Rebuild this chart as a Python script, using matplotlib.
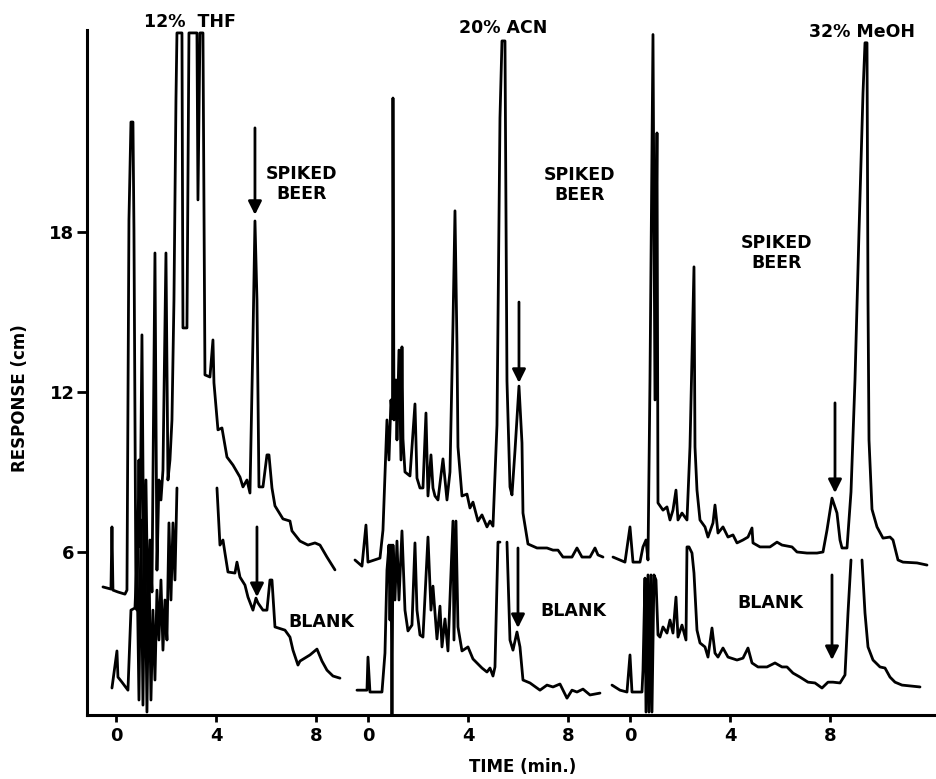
import matplotlib.pyplot as plt
import numpy as np

nan = np.nan

# time (min) / response (cm), one pair of lists per trace
thf_spiked_t = [-0.52, -0.20, -0.16, -0.12, 0.08, 0.36, 0.44, 0.52, 0.60, 0.68, 0.72, 0.80, 0.84, 0.92,
                0.96, 1.04, 1.12, 1.20, 1.28, 1.36, 1.44, 1.56, 1.64, 1.72, 1.80, 1.88, 2.00, 2.08,
                2.16, 2.24, 2.32, 2.40, 2.44, 2.64, 2.68, 2.84, 2.92, 3.24, 3.28, 3.36, 3.48, 3.56,
                3.76, 3.88, 3.92, 4.08, 4.24, 4.44, 4.68, 4.96, 5.08, 5.24, 5.36, 5.48, 5.56, 5.64,
                5.72, 5.88, 6.04, 6.12, 6.24, 6.36, 6.68, 6.96, 7.04, 7.36, 7.68, 7.96, 8.16, 8.44, 8.76]
thf_spiked_r = [4.69, 4.61, 6.94, 4.57, 4.50, 4.42, 4.57, 18.45, 22.12, 22.12, 18.07, 4.20, 3.82, 9.45,
                6.20, 14.14, 4.20, 8.70, 3.45, 6.45, 4.50, 17.21, 5.32, 8.70, 7.95, 9.07, 17.21, 8.70,
                9.45, 10.95, 15.45, 22.95, 25.46, 25.46, 14.40, 14.40, 25.46, 25.46, 19.20, 25.46, 25.46, 12.64,
                12.56, 13.95, 12.34, 10.58, 10.65, 9.56, 9.26, 8.81, 8.44, 8.70, 8.21, 14.00, 18.41, 15.45,
                8.44, 8.44, 9.64, 9.64, 8.40, 7.73, 7.24, 7.16, 6.79, 6.41, 6.26, 6.34, 6.26, 5.81, 5.33]

thf_blank_t = [-0.16, 0.04, 0.08, 0.24, 0.48, 0.60, 0.76, 0.84, 0.92, 1.00, 1.08, 1.16, 1.24, 1.32,
               1.40, 1.48, 1.56, 1.64, 1.72, 1.80, 1.88, 1.96, 2.04, 2.12, 2.20, 2.28, 2.36, 2.44, nan,
               4.04, 4.16, 4.28, 4.36, 4.48, 4.76, 4.84, 4.96, 5.16, 5.28, 5.48, 5.60, 5.68, 5.88,
               6.04, 6.16, 6.24, 6.36, 6.76, 6.96, 7.08, 7.28, 7.36, 7.76, 8.04, 8.24, 8.44, 8.68, 8.96]
thf_blank_r = [0.90, 2.29, 1.31, 1.12, 0.82, 3.82, 3.90, 5.70, 0.45, 7.20, 0.26, 6.45, 0.00, 5.70,
               0.45, 3.82, 1.20, 4.57, 2.70, 4.95, 2.32, 4.20, 2.70, 7.09, 4.20, 7.09, 4.95, 8.40, nan,
               8.40, 6.26, 6.45, 5.96, 5.25, 5.21, 5.62, 5.06, 4.76, 4.31, 3.82, 4.27, 4.09, 3.82,
               3.82, 4.95, 4.95, 3.19, 3.07, 2.81, 2.32, 1.76, 1.91, 2.14, 2.36, 1.91, 1.57, 1.35, 1.27]

acn_spiked_t = [-0.52, -0.24, -0.08, 0.00, 0.48, 0.60, 0.76, 0.84, 0.92, 0.98, 1.00, 1.04, 1.12, 1.16,
                1.24, 1.32, 1.36, 1.40, 1.48, 1.68, 1.88, 1.96, 2.08, 2.20, 2.32, 2.40, 2.52, 2.60,
                2.68, 2.80, 3.00, 3.16, 3.28, 3.40, 3.48, 3.56, 3.60, 3.76, 3.96, 4.08, 4.20, 4.40,
                4.56, 4.76, 4.88, 5.00, 5.16, 5.28, 5.36, 5.48, 5.56, 5.68, 5.76, 5.88, 6.04, 6.16,
                6.20, 6.40, 6.76, 7.16, 7.40, 7.60, 7.80, 8.16, 8.36, 8.56, 8.88, 9.08, 9.20, 9.40]
acn_spiked_r = [5.70, 5.47, 7.01, 5.62, 5.77, 6.82, 10.95, 9.45, 11.70, 11.00, 23.02, 10.95, 12.45, 10.20,
                13.57, 9.45, 13.69, 10.24, 9.00, 8.85, 11.55, 8.77, 8.40, 8.40, 11.21, 8.10, 9.64, 8.40,
                8.10, 7.95, 9.49, 7.95, 9.00, 14.51, 18.79, 13.76, 9.94, 8.10, 8.17, 7.65, 7.87, 7.16,
                7.39, 6.94, 7.16, 6.97, 10.76, 22.27, 25.16, 25.16, 12.41, 8.44, 8.14, 9.79, 12.22, 10.09,
                7.46, 6.30, 6.15, 6.15, 6.07, 6.07, 5.81, 5.81, 6.15, 5.81, 5.81, 6.15, 5.89, 5.81]

acn_blank_t = [-0.44, -0.04, 0.00, 0.08, 0.56, 0.68, 0.76, 0.84, 0.88, 0.92, 0.96, 1.00, 1.08, 1.16,
               1.24, 1.36, 1.48, 1.60, 1.76, 1.88, 1.96, 2.08, 2.20, 2.40, 2.52, 2.60, 2.76, 2.88,
               2.96, 3.08, 3.20, 3.40, 3.44, 3.52, 3.60, 3.76, 4.00, 4.20, 4.56, 4.76, 4.88, 5.00,
               5.08, 5.20, 5.28, nan, 5.56, 5.68, 5.80, 5.96, 6.08, 6.20, 6.48, 6.88, 7.16,
               7.40, 7.68, 7.96, 8.16, 8.36, 8.60, 8.88, 9.28]
acn_blank_r = [0.82, 0.82, 2.06, 0.75, 0.75, 2.21, 5.32, 6.26, 3.45, 6.26, -0.10, 6.26, 4.20, 6.41,
               4.20, 6.79, 3.82, 3.04, 3.26, 6.34, 3.82, 2.89, 2.81, 6.56, 3.82, 4.72, 2.74, 3.97,
               2.44, 3.49, 2.29, 7.16, 2.70, 7.16, 3.19, 2.29, 2.44, 1.99, 1.65, 1.50, 1.65, 1.35,
               1.69, 6.37, 6.37, nan, 6.37, 2.70, 2.32, 3.00, 2.44, 1.20, 1.09, 0.82, 1.01,
               0.94, 1.05, 0.52, 0.82, 0.75, 0.86, 0.64, 0.71]

meoh_spiked_t = [-0.68, -0.20, 0.00, 0.12, 0.40, 0.52, 0.64, 0.72, 0.80, 0.92, 1.00, 1.08, 1.12, 1.32,
                 1.48, 1.60, 1.72, 1.84, 1.92, 2.08, 2.28, 2.40, 2.56, 2.60, 2.68, 2.80, 3.00, 3.12,
                 3.32, 3.40, 3.52, 3.72, 3.92, 4.12, 4.28, 4.52, 4.72, 4.88, 4.92, 5.20, 5.60, 5.88,
                 6.08, 6.48, 6.68, 7.08, 7.48, 7.72, 7.88, 8.08, 8.28, 8.40, 8.48, 8.68, 8.84, 9.00,
                 9.16, 9.32, 9.40, 9.48, 9.52, 9.56, 9.68, 9.88, 10.12, 10.40, 10.52, 10.72, 10.92,
                 11.48, 11.88]
meoh_spiked_r = [5.81, 5.62, 6.94, 5.62, 5.62, 6.19, 6.45, 5.70, 12.45, 25.40, 11.70, 21.71, 7.84, 7.57,
                 7.69, 7.20, 7.57, 8.32, 7.20, 7.46, 7.20, 9.94, 16.69, 9.94, 8.32, 7.20, 6.94, 6.56,
                 7.09, 7.76, 6.71, 6.94, 6.56, 6.64, 6.34, 6.45, 6.56, 6.90, 6.34, 6.19, 6.19, 6.37,
                 6.26, 6.19, 6.00, 5.96, 5.96, 6.00, 6.82, 8.02, 7.46, 6.45, 6.15, 6.15, 8.25, 12.45,
                 18.00, 23.20, 25.09, 25.09, 15.50, 10.20, 7.60, 6.94, 6.52, 6.56, 6.45, 5.70, 5.62,
                 5.59, 5.51]

meoh_blank_t = [-0.72, -0.40, -0.12, 0.00, 0.08, 0.48, 0.52, 0.60, 0.64, 0.72, 0.76, 0.84, 0.88, 0.96,
                1.04, 1.12, 1.20, 1.32, 1.48, 1.60, 1.72, 1.84, 1.92, 2.08, 2.24, 2.28, 2.36, 2.48,
                2.56, 2.68, 2.80, 3.00, 3.12, 3.28, 3.40, 3.52, 3.72, 3.92, 4.28, 4.52, 4.72, 4.88,
                5.12, 5.48, 5.80, 6.08, 6.28, 6.52, 6.80, 7.12, 7.40, 7.68, 7.92, 8.12, 8.40, 8.60,
                8.72, 8.84, nan, 9.28, 9.40, 9.52, 9.72, 10.00, 10.20, 10.40, 10.60, 10.88, 11.60]
meoh_blank_r = [1.01, 0.82, 0.75, 2.14, 0.75, 0.75, 1.57, 5.02, 0.00, 5.14, 0.00, 5.14, 0.00, 5.14,
                4.95, 2.89, 2.81, 3.19, 2.96, 3.45, 2.96, 4.31, 2.81, 3.26, 2.70, 6.19, 6.19, 5.96,
                5.21, 3.07, 2.59, 2.44, 2.06, 3.15, 2.21, 2.06, 2.40, 2.06, 1.95, 2.02, 2.40, 1.84,
                1.69, 1.69, 1.84, 1.69, 1.69, 1.46, 1.31, 1.12, 1.09, 0.90, 1.12, 1.12, 1.09, 1.39,
                3.71, 5.70, nan, 5.70, 3.71, 2.44, 1.95, 1.69, 1.65, 1.31, 1.12, 1.01, 0.94]

panels = ["12%  THF", "20% ACN", "32% MeOH"]
panel_shift = [0.0, 10.08, 20.56]      # where each run's t=0 sits on the shared time axis
traces = [
    [(thf_spiked_t, thf_spiked_r), (thf_blank_t, thf_blank_r)],
    [(acn_spiked_t, acn_spiked_r), (acn_blank_t, acn_blank_r)],
    [(meoh_spiked_t, meoh_spiked_r), (meoh_blank_t, meoh_blank_r)],
]

# arrows marking the analyte: time, tail and tip response
arrow_t = [[5.56, 5.64], [6.04, 6.00], [8.20, 8.08]]
arrow_tail = [[21.9, 6.94], [15.37, 6.15], [11.59, 5.14]]
arrow_tip = [[18.64, 4.31], [12.34, 3.15], [8.21, 1.95]]

time_ticks = [0, 4, 8]
resp_ticks = [6, 12, 18]

plt.rcParams["font.family"] = ["DejaVu Sans"]
plt.rcParams["font.weight"] = "bold"

fig = plt.figure(figsize=(9.37, 7.79), dpi=100)
ax = fig.add_axes([0.0928, 0.0822, 0.9072, 0.8793])

for shift, pair in zip(panel_shift, traces):
    for t, r in pair:
        ax.plot(np.array(t) + shift, r, color="black", lw=2.0,
                solid_joinstyle="round", solid_capstyle="round")

for shift, ts, tails, tips in zip(panel_shift, arrow_t, arrow_tail, arrow_tip):
    for t, a, b in zip(ts, tails, tips):
        ax.annotate("", xy=(t + shift, b), xytext=(t + shift, a),
                    arrowprops=dict(arrowstyle="-|>", lw=2.0, color="black",
                                    mutation_scale=20, shrinkA=0, shrinkB=0))

txt = dict(fontsize=12.5, fontweight="bold", ha="center", va="center", linespacing=1.1)
ax.text(7.44, 19.8, "SPIKED\nBEER", **txt)
ax.text(panel_shift[1] + 8.48, 19.76, "SPIKED\nBEER", **txt)
ax.text(panel_shift[2] + 5.88, 17.21, "SPIKED\nBEER", **txt)
ax.text(8.2, 3.36, "BLANK", **txt)
ax.text(panel_shift[1] + 8.2, 3.79, "BLANK", **txt)
ax.text(panel_shift[2] + 5.6, 4.09, "BLANK", **txt)

fig.text(0.203, 0.972, panels[0], fontsize=12.5, fontweight="bold", ha="center", va="center")
fig.text(0.537, 0.964, panels[1], fontsize=12.5, fontweight="bold", ha="center", va="center")
fig.text(0.920, 0.959, panels[2], fontsize=12.5, fontweight="bold", ha="center", va="center")

xt = [s + v for s in panel_shift for v in time_ticks]
ax.set_xticks(xt)
ax.set_xticklabels([str(v) for s in panel_shift for v in time_ticks])
ax.set_yticks(resp_ticks)
ax.set_yticklabels([str(v) for v in resp_ticks])
ax.set_xlim(-1.16, 32.84)
ax.set_ylim(-0.11, 25.57)

for s in ["top", "right"]:
    ax.spines[s].set_visible(False)
for s in ["left", "bottom"]:
    ax.spines[s].set_linewidth(2.2)
ax.tick_params(axis="x", length=5, width=2, pad=4, labelsize=13)
ax.tick_params(axis="y", length=7, width=2, pad=2, labelsize=13)
for lab in ax.get_xticklabels() + ax.get_yticklabels():
    lab.set_fontweight("bold")

fig.text(0.021, 0.489, "RESPONSE (cm)", rotation=90, fontsize=12, fontweight="bold",
         ha="center", va="center")
fig.text(0.558, 0.004, "TIME (min.)", fontsize=12, fontweight="bold", ha="center", va="bottom")

fig.savefig("out.png", dpi=100)
